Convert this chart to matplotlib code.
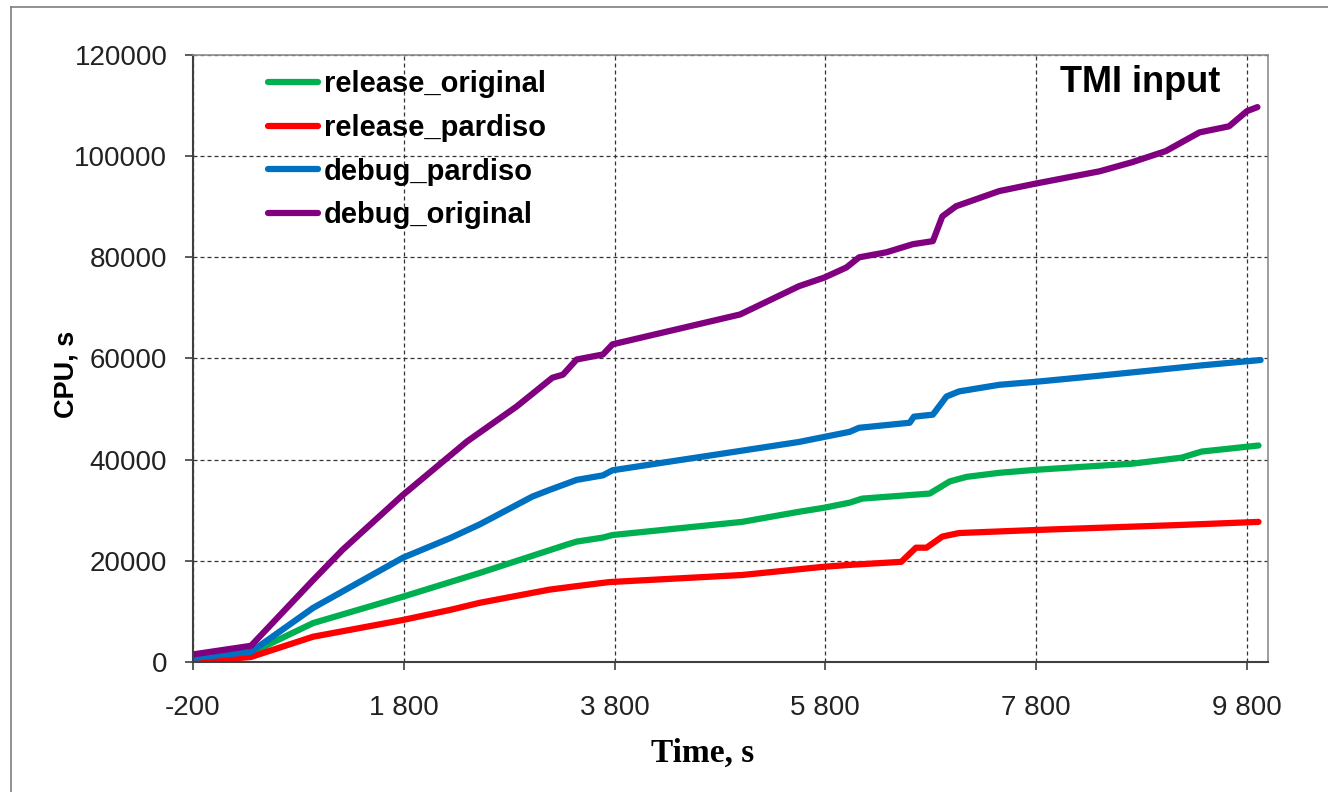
import matplotlib
matplotlib.use('Agg')
import matplotlib.pyplot as plt
from matplotlib.ticker import FuncFormatter, MultipleLocator
from matplotlib.lines import Line2D

# CPU time against simulated time, TMI input
rel_orig_t = [-200, 350, 940, 1790, 2240, 2520, 3345, 3440, 3690, 3780, 5010, 5550, 5790,
              6030, 6150, 6790, 6980, 7140, 7450, 7800, 8400, 8710, 9180, 9370, 9910]
rel_orig_cpu = [300, 1800, 7700, 12900, 15800, 17600, 23200, 23800, 24600, 25100, 27700, 29700, 30500,
                31500, 32300, 33300, 35700, 36600, 37400, 38000, 38800, 39200, 40400, 41600, 42800]

rel_pard_t = [-200, 350, 940, 1790, 2240, 2520, 3180, 3440, 3750, 5010, 5770, 6030, 6520,
              6660, 6760, 6910, 7070, 7800, 9180, 9910]
rel_pard_cpu = [0, 1000, 5000, 8300, 10300, 11700, 14300, 15000, 15800, 17200, 18800, 19200, 19800,
                22600, 22600, 24800, 25500, 26100, 27100, 27700]

dbg_pard_t = [-200, 350, 940, 1790, 2240, 2520, 3020, 3180, 3440, 3690, 3780, 4920, 5550,
              6030, 6120, 6600, 6640, 6820, 6950, 7070, 7450, 7800, 8400, 9350, 9930]
dbg_pard_cpu = [800, 2000, 10700, 20600, 24500, 27200, 32700, 34000, 36000, 36900, 37900, 41500, 43500,
                45500, 46300, 47300, 48500, 48900, 52500, 53500, 54800, 55400, 56600, 58600, 59700]

dbg_orig_t = [-200, 350, 940, 1220, 1790, 2400, 2870, 3210, 3310, 3440, 3690, 3780, 4990, 5550,
              5790, 6000, 6120, 6380, 6630, 6820, 6910, 7040, 7450, 7800, 8400, 8710, 9030,
              9350, 9630, 9800, 9900]
dbg_orig_cpu = [1500, 3200, 16200, 22200, 33000, 43600, 50500, 56200, 56800, 59800, 60800, 62800, 68700,
                74300, 76000, 78000, 80000, 81000, 82600, 83200, 88100, 90100, 93100, 94600, 97000,
                98800, 101000, 104700, 105900, 108900, 109700]

series = [
    ('release_original', rel_orig_t, rel_orig_cpu, '#00B050'),
    ('release_pardiso', rel_pard_t, rel_pard_cpu, '#FF0000'),
    ('debug_pardiso', dbg_pard_t, dbg_pard_cpu, '#0070C0'),
    ('debug_original', dbg_orig_t, dbg_orig_cpu, '#800080'),
]

W, H = 1328, 792
fig = plt.figure(figsize=(W / 100, H / 100), dpi=100)
ax = fig.add_axes([193 / W, 1 - 662 / H, 1075 / W, 607 / H])

# outer frame (only left and top edges fall inside the image)
fig.add_artist(Line2D([11 / W, 11 / W], [0, 1 - 7 / H], transform=fig.transFigure, color='#7f7f7f', lw=1.2))
fig.add_artist(Line2D([11 / W, 1], [1 - 7 / H, 1 - 7 / H], transform=fig.transFigure, color='#7f7f7f', lw=1.2))

for name, t, cpu, col in series:
    ax.plot(t, cpu, color=col, lw=4.5, label=name, solid_joinstyle='round', solid_capstyle='round')

ax.set_xlim(-200, 10000)
ax.set_ylim(0, 120000)
ax.set_xticks(range(-200, 10000, 2000))
ax.yaxis.set_major_locator(MultipleLocator(20000))
ax.xaxis.set_major_formatter(FuncFormatter(lambda v, p: f'{int(v):,}'.replace(',', ' ')))
ax.yaxis.set_major_formatter(FuncFormatter(lambda v, p: f'{int(v)}'))

ax.grid(True, color='#333333', lw=0.9, linestyle=(0, (3.2, 2.4)))
ax.set_axisbelow(True)

for side in ['left', 'bottom']:
    ax.spines[side].set_color('#404040')
    ax.spines[side].set_linewidth(1.5)
for side in ['top', 'right']:
    ax.spines[side].set_color('#8c8c8c')
    ax.spines[side].set_linewidth(1.2)

ax.tick_params(axis='both', direction='out', length=6, width=1.2, color='#404040',
               labelsize=20, labelcolor='#222222')
ax.tick_params(axis='y', pad=12.5)
ax.tick_params(axis='x', pad=17.5)
for lab in ax.get_xticklabels() + ax.get_yticklabels():
    lab.set_family('Liberation Sans')

ax.set_xlabel('Time, s', family='Liberation Serif', fontweight='bold', fontsize=24)
ax.xaxis.set_label_coords(0.474, -0.151)
ax.xaxis.label.set_va('center')
ax.set_ylabel('CPU, s', family='Liberation Sans', fontweight='bold', fontsize=19.5)
ax.yaxis.set_label_coords(-0.118, 0.474)
ax.yaxis.label.set_va('center')

ax.text((1060 - 193) / 1075, (662 - 92) / 607, 'TMI input', transform=ax.transAxes,
        family='Liberation Sans', fontweight='bold', fontsize=26, ha='left', va='baseline')

ax.legend(loc='upper left', bbox_to_anchor=((268 - 193) / 1075, 1 - (70 - 55) / 607),
          frameon=False, borderpad=0, borderaxespad=0, handlelength=1.72, handletextpad=0.2,
          labelspacing=0.54, prop={'family': 'Liberation Sans', 'weight': 'bold', 'size': 21})

plt.savefig('out.png', dpi=100)
